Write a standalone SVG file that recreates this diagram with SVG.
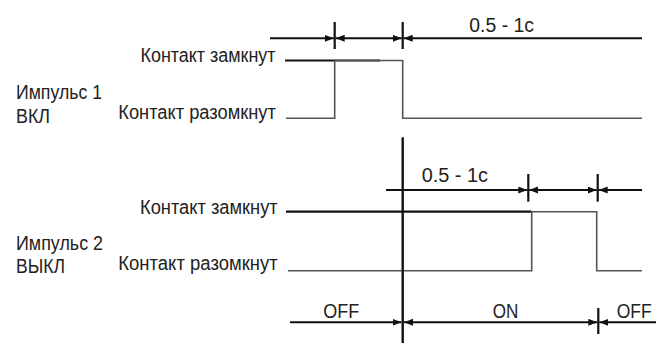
<svg xmlns="http://www.w3.org/2000/svg" width="658" height="345" viewBox="0 0 658 345">
<style>
  text { font-family: "Liberation Sans", Arial, sans-serif; font-size: 20px; fill: #222; }
  .num { font-size: 20.5px; }
  .dim { stroke: #111; stroke-width: 2; fill: none; }
  .tick { stroke: #111; stroke-width: 2.2; fill: none; }
  .ref { stroke: #111; stroke-width: 2.2; fill: none; }
  .sig { stroke: #555; stroke-width: 1.6; fill: none; }
  .axis { stroke: #111; stroke-width: 2.4; fill: none; }
</style>
<defs>
  <marker id="arr" markerUnits="userSpaceOnUse" markerWidth="10" markerHeight="8" refX="9" refY="3.5" orient="auto-start-reverse">
    <path d="M0,0 L9,3.5 L0,7 z" fill="#111"/>
  </marker>
</defs>
<rect width="658" height="345" fill="#fff"/>

<g id="labels-row1">
  <text x="16" y="98.5" textLength="86" lengthAdjust="spacingAndGlyphs">Импульс 1</text>
  <text x="16" y="122.5" textLength="34" lengthAdjust="spacingAndGlyphs">ВКЛ</text>
  <text x="140.5" y="62" textLength="135" lengthAdjust="spacingAndGlyphs">Контакт замкнут</text>
  <text x="118.3" y="119" textLength="157.5" lengthAdjust="spacingAndGlyphs">Контакт разомкнут</text>
  <text class="num" x="469.3" y="31.7" textLength="64.7" lengthAdjust="spacingAndGlyphs">0.5 - 1c</text>
</g>

<g id="labels-row2">
  <text x="16" y="249.5" textLength="87" lengthAdjust="spacingAndGlyphs">Импульс 2</text>
  <text x="16" y="273" textLength="49" lengthAdjust="spacingAndGlyphs">ВЫКЛ</text>
  <text x="140" y="214" textLength="137.7" lengthAdjust="spacingAndGlyphs">Контакт замкнут</text>
  <text x="118.3" y="270" textLength="159.4" lengthAdjust="spacingAndGlyphs">Контакт разомкнут</text>
  <text class="num" x="421.7" y="182" textLength="66.3" lengthAdjust="spacingAndGlyphs">0.5 - 1c</text>
  <text x="323.3" y="318.3" textLength="36" lengthAdjust="spacingAndGlyphs">OFF</text>
  <text x="492.7" y="318.3" textLength="25.6" lengthAdjust="spacingAndGlyphs">ON</text>
  <text x="616.7" y="318.3" textLength="35" lengthAdjust="spacingAndGlyphs">OFF</text>
</g>

<g id="signal-1">
  <line class="ref" x1="285" y1="60.5" x2="380" y2="60.5"/>
  <polyline class="sig" points="286,118.3 334.7,118.3 334.7,60.5 402.7,60.5 402.7,118.3 642,118.3"/>
</g>

<g id="signal-2">
  <line class="ref" x1="286" y1="211.7" x2="531.7" y2="211.7"/>
  <polyline class="sig" points="288,270.7 531.7,270.7 531.7,211.7 596.7,211.7 596.7,270.7 642,270.7"/>
</g>

<g id="connectors">
  <line class="tick" x1="334.7" y1="22" x2="334.7" y2="49"/>
  <line class="tick" x1="402.7" y1="22" x2="402.7" y2="49"/>
  <line class="dim" x1="270" y1="38.3" x2="333.7" y2="38.3" marker-end="url(#arr)"/>
  <line class="dim" x1="335.7" y1="38.3" x2="401.7" y2="38.3" marker-start="url(#arr)" marker-end="url(#arr)"/>
  <line class="dim" x1="403.7" y1="38.3" x2="642" y2="38.3" marker-start="url(#arr)"/>

  <line class="axis" x1="402.7" y1="137.3" x2="402.7" y2="343"/>

  <line class="tick" x1="528.3" y1="174" x2="528.3" y2="201.7"/>
  <line class="tick" x1="597.7" y1="174" x2="597.7" y2="201.7"/>
  <line class="dim" x1="386" y1="190" x2="527.3" y2="190" marker-end="url(#arr)"/>
  <line class="dim" x1="529.3" y1="190" x2="596.7" y2="190" marker-start="url(#arr)" marker-end="url(#arr)"/>
  <line class="dim" x1="598.7" y1="190" x2="642" y2="190" marker-start="url(#arr)"/>

  <line class="tick" x1="598.3" y1="308" x2="598.3" y2="334"/>
  <line class="dim" x1="290" y1="322.3" x2="401.5" y2="322.3" marker-end="url(#arr)"/>
  <line class="dim" x1="404" y1="322.3" x2="597.3" y2="322.3" marker-start="url(#arr)" marker-end="url(#arr)"/>
  <line class="dim" x1="599.3" y1="322.3" x2="656" y2="322.3" marker-start="url(#arr)"/>
</g>
</svg>
